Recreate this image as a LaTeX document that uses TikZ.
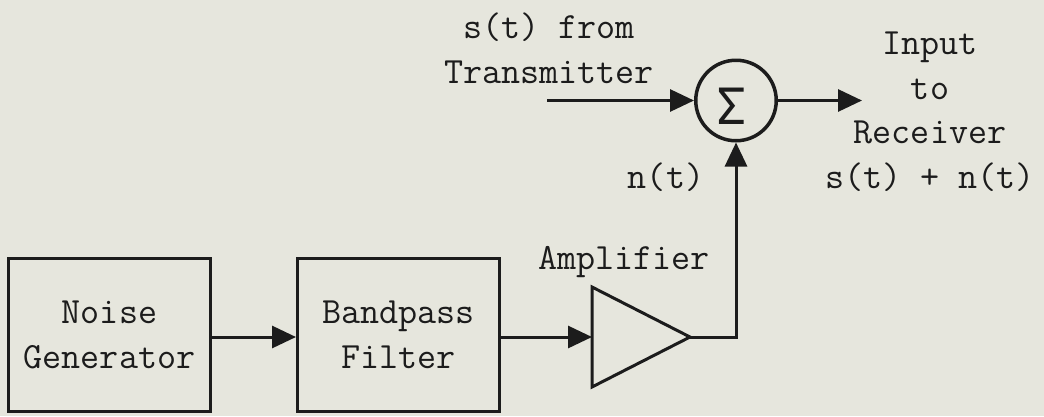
\documentclass[tikz,border=0pt]{standalone}
\usepackage{fontspec}
\newfontfamily\sigfont{DejaVu Sans Mono}
\usetikzlibrary{arrows.meta}
\definecolor{paper}{RGB}{230,230,221}
\definecolor{ink}{RGB}{28,28,28}
\begin{document}
\begin{tikzpicture}[x=1pt,y=-1pt,
  lbl/.style={font=\fontsize{37}{44.5}\selectfont\ttfamily, text=ink, inner sep=0pt, align=center},
  blk/.style={lbl, draw=ink, line width=3pt, minimum width=202pt, minimum height=153pt},
  wire/.style={draw=ink, line width=3pt},
  arr/.style={wire, -{Triangle[length=24pt,width=22pt]}},
]
\fill[paper] (0,0) rectangle (1044,416);
\useasboundingbox (0,0) rectangle (1044,416);

\node[blk] (ng) at (109.5,335) {Noise\\Generator};
\node[blk] (bp) at (398.5,335) {Bandpass\\Filter};

\coordinate (ampin) at (592,337);
\coordinate (ampout) at (690,337);
\draw[wire, line join=miter] (592,287) -- (ampout) -- (592,387) -- cycle;
\node[lbl, anchor=base] (amplbl) at (624,269) {Amplifier};

\node[draw=ink, line width=3.5pt, circle, minimum size=80.5pt, inner sep=0pt] (sum) at (736,100.5) {};
\node[inner sep=0pt, text=ink, font=\fontsize{50}{50}\selectfont\sigfont] (sig) at (731.5,106.5) {Σ};

\coordinate (src) at (547,100.5);
\coordinate (dst) at (862,100.5);

\draw[arr] (ng.east |- 0,337) -- (bp.west |- 0,337);
\draw[arr] (bp.east |- ampin) -- (ampin);
\draw[arr] (ampout) -| (sum.south);
\draw[arr] (src) -- (sum.west);
\draw[arr] (sum.east) -- (dst);

\node[lbl, anchor=base] (stx) at (549,83) {s(t) from\\Transmitter};
\node[lbl, anchor=base] (rx) at (930,188) {Input\\to\\Receiver\\s(t) + n(t)};
\node[lbl, anchor=base] (nt) at (666,188) {n(t)};
\end{tikzpicture}
\end{document}
